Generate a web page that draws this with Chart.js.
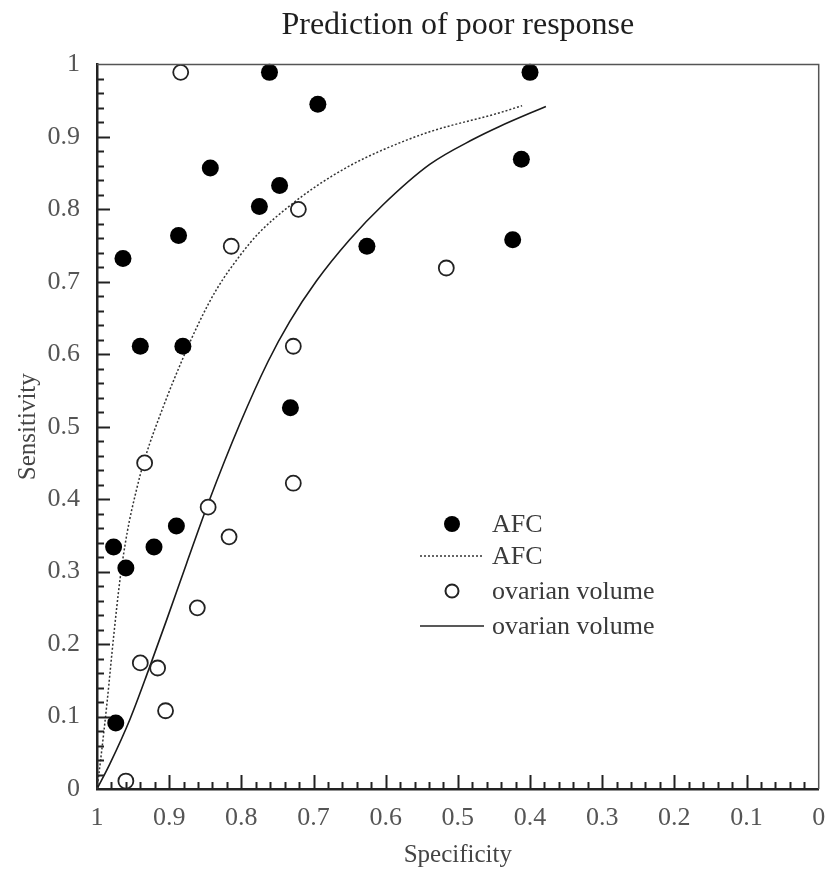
<!DOCTYPE html>
<html>
<head>
<meta charset="utf-8">
<script src="https://cdn.jsdelivr.net/npm/chart.js@4/dist/chart.umd.min.js"></script>
<style>
  html, body { margin: 0; padding: 0; background: #fff; }
  #wrap { width: 828px; height: 875px; position: relative; }
</style>
</head>
<body>
<div id="wrap"><canvas id="c" width="828" height="875"></canvas></div>
<script>
// ---- Data ----
const titleText = 'Prediction of poor response';
const xAxisTitle = 'Specificity';
const yAxisTitle = 'Sensitivity';

const xTickValues = [1, 0.9, 0.8, 0.7, 0.6, 0.5, 0.4, 0.3, 0.2, 0.1, 0];
const xTickLabels = ['1', '0.9', '0.8', '0.7', '0.6', '0.5', '0.4', '0.3', '0.2', '0.1', '0'];
const yTickValues = [0, 0.1, 0.2, 0.3, 0.4, 0.5, 0.6, 0.7, 0.8, 0.9, 1];
const yTickLabels = ['0', '0.1', '0.2', '0.3', '0.4', '0.5', '0.6', '0.7', '0.8', '0.9', '1'];
const minorTickStep = 0.02;

const legendLabels = ['AFC', 'AFC', 'ovarian volume', 'ovarian volume'];

// AFC study points (specificity, sensitivity)
const afcSpec = [0.761, 0.694, 0.843, 0.747, 0.775, 0.887, 0.964, 0.626, 0.400, 0.412, 0.424,
                 0.940, 0.881, 0.732, 0.890, 0.977, 0.921, 0.960, 0.974];
const afcSens = [0.989, 0.945, 0.857, 0.833, 0.804, 0.764, 0.732, 0.749, 0.989, 0.869, 0.758,
                 0.611, 0.611, 0.526, 0.363, 0.334, 0.334, 0.305, 0.091];

// Ovarian volume study points
const ovSpec = [0.884, 0.721, 0.814, 0.516, 0.728, 0.728, 0.934, 0.846, 0.817, 0.861, 0.940, 0.916, 0.905, 0.960];
const ovSens = [0.989, 0.800, 0.749, 0.719, 0.611, 0.422, 0.450, 0.389, 0.348, 0.250, 0.174, 0.167, 0.108, 0.011];

// AFC summary curve (dotted)
const afcCurveSpec = [1, 0.995, 0.986, 0.977, 0.968, 0.958, 0.946, 0.934, 0.908, 0.882, 0.858, 0.834, 0.802, 0.775, 0.734, 0.696, 0.650, 0.604, 0.539, 0.443, 0.411];
const afcCurveSens = [0, 0.040, 0.120, 0.210, 0.290, 0.355, 0.410, 0.455, 0.528, 0.592, 0.645, 0.690, 0.736, 0.768, 0.804, 0.832, 0.860, 0.882, 0.907, 0.933, 0.943];

// Ovarian volume summary curve (solid)
const ovCurveSpec = [1, 0.982, 0.954, 0.929, 0.904, 0.876, 0.846, 0.802, 0.763, 0.733, 0.696, 0.650, 0.604, 0.539, 0.478, 0.443, 0.378];
const ovCurveSens = [0, 0.035, 0.097, 0.163, 0.232, 0.311, 0.394, 0.504, 0.590, 0.645, 0.701, 0.758, 0.806, 0.862, 0.897, 0.914, 0.942];

// ---- Build chart ----
const zip = (xs, ys) => xs.map((x, i) => ({ x: x, y: ys[i] }));
const serif = 'Liberation Serif, Times New Roman, serif';

const frameAndTicks = {
  id: 'frameAndTicks',
  afterDraw(chart) {
    const { ctx, chartArea: a, scales: { x, y } } = chart;
    ctx.save();
    // top and right frame
    ctx.strokeStyle = '#555';
    ctx.lineWidth = 1.5;
    ctx.beginPath();
    ctx.moveTo(a.left, a.top); ctx.lineTo(a.right, a.top); ctx.lineTo(a.right, a.bottom);
    ctx.stroke();
    // inward ticks
    ctx.strokeStyle = '#222';
    ctx.lineWidth = 2;
    const n = Math.round(1 / minorTickStep);
    for (let i = 1; i < n; i++) {
      const v = i * minorTickStep;
      const major = i % 5 === 0;
      const px = Math.round(x.getPixelForValue(v)) + 0.5;
      ctx.beginPath();
      ctx.moveTo(px, a.bottom);
      ctx.lineTo(px, a.bottom - (major ? 14 : 7));
      ctx.stroke();
      const py = Math.round(y.getPixelForValue(v)) + 0.5;
      ctx.beginPath();
      ctx.moveTo(a.left, py);
      ctx.lineTo(a.left + (major ? 13 : 7), py);
      ctx.stroke();
    }
    ctx.restore();
  }
};

const customLegend = {
  id: 'customLegend',
  afterDraw(chart) {
    const { ctx } = chart;
    const symX = 452, lineL = 420, lineR = 484, textX = 492;
    const rows = [524, 556, 591, 626];
    ctx.save();
    ctx.font = '26px ' + serif;
    ctx.textBaseline = 'middle';
    ctx.textAlign = 'left';
    // row 1: filled circle
    ctx.beginPath(); ctx.arc(symX, rows[0], 8, 0, Math.PI * 2);
    ctx.fillStyle = '#000'; ctx.fill();
    // row 2: dotted line
    ctx.strokeStyle = '#333'; ctx.lineWidth = 1.5; ctx.setLineDash([2, 2]);
    ctx.beginPath(); ctx.moveTo(lineL, rows[1]); ctx.lineTo(lineR, rows[1]); ctx.stroke();
    ctx.setLineDash([]);
    // row 3: open circle
    ctx.beginPath(); ctx.arc(symX, rows[2], 6.5, 0, Math.PI * 2);
    ctx.lineWidth = 2; ctx.strokeStyle = '#222'; ctx.stroke();
    // row 4: solid line
    ctx.lineWidth = 1.6; ctx.strokeStyle = '#222';
    ctx.beginPath(); ctx.moveTo(lineL, rows[3]); ctx.lineTo(lineR, rows[3]); ctx.stroke();
    ctx.fillStyle = '#3a3a3a';
    legendLabels.forEach((t, i) => ctx.fillText(t, textX, rows[i] + 1));
    ctx.restore();
  }
};

new Chart(document.getElementById('c'), {
  type: 'scatter',
  data: {
    datasets: [
      {
        label: 'AFC',
        data: zip(afcSpec, afcSens),
        pointRadius: 8.5,
        pointBackgroundColor: '#000',
        pointBorderColor: '#000',
        pointBorderWidth: 0,
        showLine: false,
        order: 1
      },
      {
        label: 'ovarian volume',
        data: zip(ovSpec, ovSens),
        pointRadius: 7.5,
        pointBackgroundColor: '#fff',
        pointBorderColor: '#222',
        pointBorderWidth: 1.8,
        showLine: false,
        order: 2
      },
      {
        label: 'AFC curve',
        data: zip(afcCurveSpec, afcCurveSens),
        showLine: true,
        borderColor: '#333',
        borderWidth: 1.5,
        borderDash: [2, 2],
        pointRadius: 0,
        cubicInterpolationMode: 'monotone',
        order: 3
      },
      {
        label: 'ovarian volume curve',
        data: zip(ovCurveSpec, ovCurveSens),
        showLine: true,
        borderColor: '#1a1a1a',
        borderWidth: 1.6,
        pointRadius: 0,
        cubicInterpolationMode: 'monotone',
        order: 4
      }
    ]
  },
  options: {
    responsive: false,
    animation: false,
    clip: false,
    layout: { padding: { left: 0, right: 8, top: 0, bottom: 0 } },
    plugins: {
      legend: { display: false },
      tooltip: { enabled: false },
      title: {
        display: true,
        text: titleText,
        fullSize: false,
        color: '#1e1e1e',
        font: { family: serif, size: 32, weight: 'normal' },
        padding: { top: 6, bottom: 20 }
      }
    },
    scales: {
      x: {
        type: 'linear',
        min: 0, max: 1,
        reverse: true,
        afterBuildTicks: s => { s.ticks = xTickValues.map(v => ({ value: v })); },
        afterFit: s => { s.height = 86; s.paddingLeft = 0; s.paddingRight = 0; },
        grid: { display: false, drawTicks: false },
        border: { display: true, color: '#222', width: 2.5 },
        ticks: {
          autoSkip: false, maxRotation: 0,
          padding: 14,
          color: '#555',
          font: { family: serif, size: 26 },
          callback: (v) => xTickLabels[xTickValues.findIndex(t => Math.abs(t - v) < 1e-9)]
        },
        title: {
          display: true, text: xAxisTitle, color: '#444',
          font: { family: serif, size: 25 },
          padding: { top: 0, bottom: 5 }
        }
      },
      y: {
        type: 'linear',
        min: 0, max: 1,
        afterBuildTicks: s => { s.ticks = yTickValues.map(v => ({ value: v })); },
        afterFit: s => { s.width = 97; },
        grid: { display: false, drawTicks: false },
        border: { display: true, color: '#222', width: 2.5 },
        ticks: {
          autoSkip: false,
          padding: 17,
          color: '#555',
          font: { family: serif, size: 26 },
          callback: (v) => yTickLabels[yTickValues.findIndex(t => Math.abs(t - v) < 1e-9)]
        },
        title: {
          display: true, text: yAxisTitle, color: '#444',
          font: { family: serif, size: 25 },
          padding: { top: 13, bottom: 0 }
        }
      }
    }
  },
  plugins: [frameAndTicks, customLegend]
});
</script>
</body>
</html>
